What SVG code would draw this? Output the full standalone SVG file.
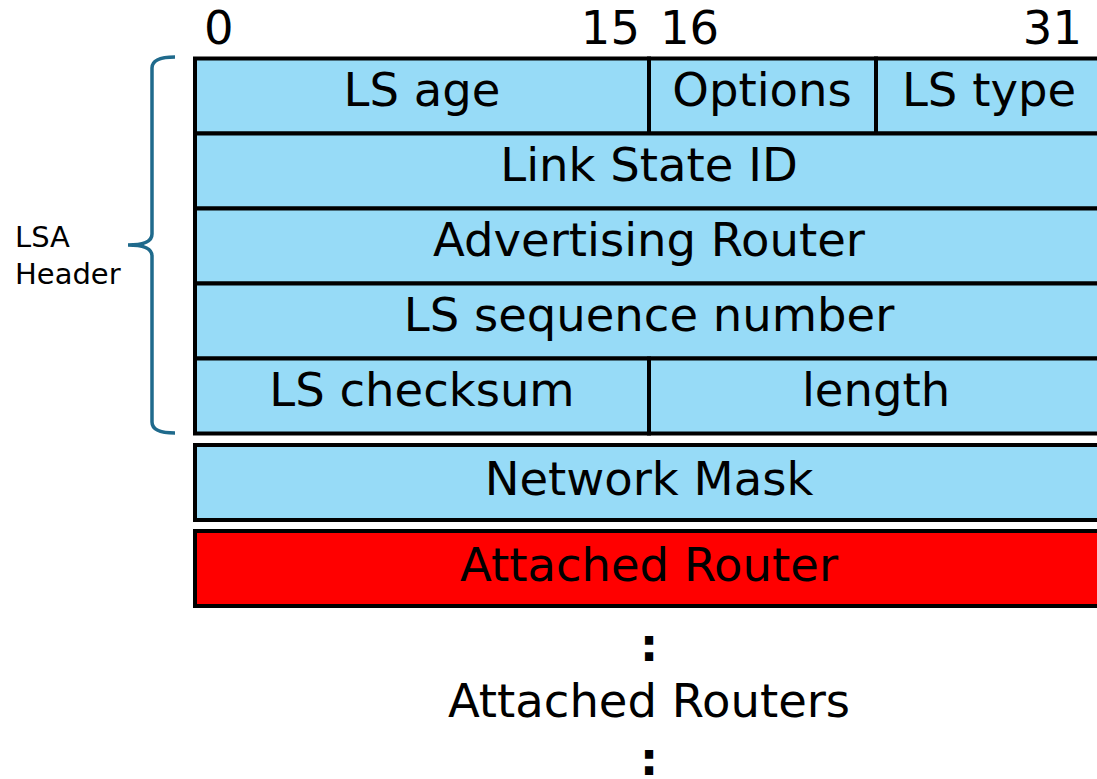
<svg xmlns="http://www.w3.org/2000/svg" width="1097" height="779" viewBox="0 0 1097 779">
<style>
.f{fill:#97DBF7;stroke:#000;stroke-width:4}
.r{fill:#FF0000;stroke:#000;stroke-width:4}
text{font-family:"DejaVu Sans","Verdana",sans-serif;font-size:46.5px;fill:#000}
.c{text-anchor:middle}
.s{font-size:29px}
</style>
<rect width="1097" height="779" fill="#fff"/>
<g id="bit-labels">
<text x="204" y="44">0</text>
<text x="640" y="44" text-anchor="end">15</text>
<text x="660" y="44">16</text>
<text x="1082" y="44" text-anchor="end">31</text>
</g>
<g id="row-1">
<rect class="f" x="195" y="58.5" width="454" height="75"/>
<text class="c" x="422" y="106">LS age</text>
<rect class="f" x="649" y="58.5" width="227" height="75"/>
<text class="c" x="762" y="106">Options</text>
<rect class="f" x="876" y="58.5" width="227" height="75"/>
<text class="c" x="989" y="106">LS type</text>
</g>
<g id="row-2">
<rect class="f" x="195" y="133.5" width="908" height="75"/>
<text class="c" x="649" y="181">Link State ID</text>
</g>
<g id="row-3">
<rect class="f" x="195" y="208.5" width="908" height="75"/>
<text class="c" x="649" y="256">Advertising Router</text>
</g>
<g id="row-4">
<rect class="f" x="195" y="283.5" width="908" height="75"/>
<text class="c" x="649" y="331">LS sequence number</text>
</g>
<g id="row-5">
<rect class="f" x="195" y="358.5" width="454" height="75"/>
<text class="c" x="422" y="406">LS checksum</text>
<rect class="f" x="649" y="358.5" width="454" height="75"/>
<text class="c" x="876" y="406">length</text>
</g>
<g id="network-mask">
<rect class="f" x="195" y="445" width="908" height="75"/>
<text class="c" x="649" y="495">Network Mask</text>
</g>
<g id="attached-router">
<rect class="r" x="195" y="531" width="908" height="75"/>
<text class="c" x="649" y="581">Attached Router</text>
</g>
<g id="more">
<text class="c" x="649" y="661" font-weight="bold">:</text>
<text class="c" x="649" y="717">Attached Routers</text>
<text class="c" x="649" y="775" font-weight="bold">:</text>
</g>
<g id="lsa-header">
<path d="M175,57 Q152,57 152,68 L152,234 Q152,245 128,245 Q152,245 152,256 L152,422 Q152,433 175,433" fill="none" stroke="#1F6A8C" stroke-width="3.5"/>
<text class="s" x="15" y="247">LSA</text>
<text class="s" x="15" y="284">Header</text>
</g>
</svg>
